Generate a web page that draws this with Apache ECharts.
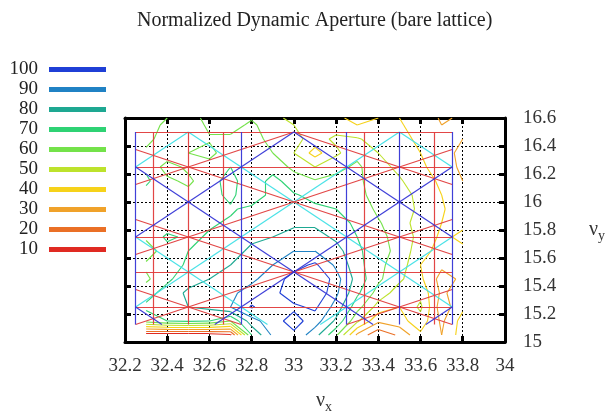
<!DOCTYPE html>
<html>
<head>
<meta charset="utf-8">
<script src="https://cdn.jsdelivr.net/npm/echarts@6/dist/echarts.min.js"></script>
<style>
  html, body { margin: 0; padding: 0; background: #fff; }
  #chart { width: 608px; height: 419px; }
</style>
</head>
<body>
<div id="chart"></div>
<script>
// tune scan grid (nu_x columns, nu_y rows)
const tuneX = [32.3, 32.4, 32.5, 32.6, 32.7, 32.8, 32.9, 33.0, 33.1, 33.2, 33.3, 33.4, 33.5, 33.6, 33.7, 33.8];
const tuneY = [15.05, 15.15, 15.25, 15.35, 15.45, 15.55, 15.65, 15.75, 15.85, 15.95, 16.05, 16.15, 16.25, 16.35, 16.45, 16.55, 16.6];

// normalized dynamic aperture, one row per nu_y
const row1505 = [4, 3, 3, 4, 8, 70, 92, 98, 84, 62, 28, 12, 22, 38, 30, 45];
const row1515 = [64, 70, 72, 70, 60, 86, 96, 104, 95, 78, 52, 32, 36, 46, 28, 44];
const row1525 = [72, 78, 80, 82, 90, 101, 94, 98, 102, 86, 64, 46, 40, 52, 24, 38];
const row1535 = [66, 74, 82, 86, 88, 94, 97, 106, 110, 92, 72, 56, 45, 47, 28, 36];
const row1545 = [58, 68, 76, 80, 82, 88, 95, 104, 114, 94, 76, 62, 52, 42, 26, 32];
const row1555 = [62, 64, 72, 76, 80, 86, 90, 96, 102, 88, 74, 62, 56, 40, 32, 34];
const row1565 = [54, 66, 70, 74, 76, 82, 86, 90, 90, 84, 72, 64, 57, 44, 36, 38];
const row1575 = [62, 72, 68, 71, 73, 78, 80, 84, 84, 78, 70, 63, 56, 47, 38, 42];
const row1585 = [66, 64, 66, 69, 71, 74, 77, 78, 78, 74, 68, 61, 54, 46, 40, 38];
const row1595 = [60, 67, 68, 65, 69, 72, 74, 74, 72, 70, 66, 58, 55, 48, 41, 35];
const row1605 = [66, 70, 63, 67, 72, 64, 73, 71, 67, 65, 63, 56, 53, 48, 40, 33];
const row1615 = [72, 62, 58, 66, 74, 62, 74, 64, 61, 63, 62, 55, 51, 45, 38, 30];
const row1625 = [68, 56, 62, 64, 70, 67, 65, 58, 50, 57, 62, 53, 48, 42, 35, 28];
const row1635 = [62, 66, 60, 57, 66, 69, 60, 50, 36, 48, 57, 50, 46, 40, 33, 28];
const row1645 = [57, 65, 68, 61, 62, 65, 56, 53, 46, 52, 51, 46, 43, 38, 31, 30];
const row1655 = [58, 61, 66, 58, 56, 62, 54, 50, 48, 45, 40, 43, 41, 36, 30, 31];
const row1660 = [57, 60, 64, 57, 55, 59, 52, 48, 46, 42, 37, 40, 40, 35, 29, 31];
const apertureGrid = [row1505, row1515, row1525, row1535, row1545, row1555, row1565, row1575,
  row1585, row1595, row1605, row1615, row1625, row1635, row1645, row1655, row1660];

const levels = [100, 90, 80, 70, 60, 50, 40, 30, 20, 10];
const levelColors = ["#1f3fd6", "#2082c4", "#1ea892", "#2fd274", "#74e24a", "#bde22c", "#f6d21a", "#f0a22a", "#ea7026", "#e02a22"];

// resonance lines, drawn inside this tune window
const resXRange = [32.25, 33.75];
const resYRange = [15.125, 16.5];
const redVertical = [97 / 3, 32.5, 98 / 3, 100 / 3, 101 / 3];
const blueVertical = [32.25, 32.75, 33.25, 33.5, 33.75];
const redHorizontal = [15.25, 15.5, 15.75, 16.25, 16.5];
const redSum = [63, 64, 65, 66];        // nux + 2 nuy
const redDiff = [0, 1, 2, 3];           // nux - 2 nuy
const cyanSum = [48, 49, 50];           // nux + nuy
const cyanDiff = [16, 17, 18];          // nux - nuy
const blueSum = [47.5, 48.5, 49.5];     // nux + nuy
const blueDiff = [16.5, 17.5, 18.5];    // nux - nuy

const FONT = "'Liberation Serif', 'Times New Roman', serif";

function contourSegments(level) {
  const segs = [];
  for (let j = 0; j < tuneY.length - 1; j += 1) {
    for (let i = 0; i < tuneX.length - 1; i += 1) {
      const x0 = tuneX[i], x1 = tuneX[i + 1], y0 = tuneY[j], y1 = tuneY[j + 1];
      const v = [apertureGrid[j][i], apertureGrid[j][i + 1], apertureGrid[j + 1][i + 1], apertureGrid[j + 1][i]];
      const p = [[x0, y0], [x1, y0], [x1, y1], [x0, y1]];
      const cross = [];
      const edges = [];
      for (let e = 0; e < 4; e += 1) {
        const a = e;
        const b = (e + 1) % 4;
        if ((v[a] >= level) !== (v[b] >= level)) {
          const t = (level - v[a]) / (v[b] - v[a]);
          cross[e] = [p[a][0] + t * (p[b][0] - p[a][0]), p[a][1] + t * (p[b][1] - p[a][1])];
          edges.push(e);
        }
      }
      if (edges.length === 2) {
        segs.push([cross[edges[0]], cross[edges[1]]]);
      } else if (edges.length === 4) {
        const centre = (v[0] + v[1] + v[2] + v[3]) / 4;
        if ((v[0] >= level) === (centre >= level)) {
          segs.push([cross[0], cross[1]], [cross[2], cross[3]]);
        } else {
          segs.push([cross[3], cross[0]], [cross[1], cross[2]]);
        }
      }
    }
  }
  return segs;
}

// clip a*nux + b*nuy = n to the resonance window
function clipLine(a, b, n) {
  const eps = 1e-9;
  const pts = [];
  if (b !== 0) {
    resXRange.forEach((x) => {
      const y = (n - a * x) / b;
      if (y >= resYRange[0] - eps && y <= resYRange[1] + eps) pts.push([x, y]);
    });
  }
  if (a !== 0) {
    resYRange.forEach((y) => {
      const x = (n - b * y) / a;
      if (x >= resXRange[0] - eps && x <= resXRange[1] + eps) pts.push([x, y]);
    });
  }
  if (pts.length < 2) return null;
  pts.sort((p, q) => (p[0] - q[0]) || (p[1] - q[1]));
  const first = pts[0];
  const last = pts[pts.length - 1];
  if (Math.abs(first[0] - last[0]) < eps && Math.abs(first[1] - last[1]) < eps) return null;
  return [first, last];
}

function resonanceSeries(color, lines) {
  const data = lines.map((l) => clipLine(l[0], l[1], l[2])).filter(Boolean).map((c) => ({ coords: c }));
  return {
    type: "lines",
    coordinateSystem: "cartesian2d",
    xAxisIndex: 0,
    yAxisIndex: 0,
    silent: true,
    z: 4,
    lineStyle: { color, width: 1.2, opacity: 0.95 },
    data
  };
}

const redLines = []
  .concat(redVertical.map((n) => [1, 0, n]))
  .concat(redHorizontal.map((n) => [0, 1, n]))
  .concat(redSum.map((n) => [1, 2, n]))
  .concat(redDiff.map((n) => [1, -2, n]));
const blueLines = []
  .concat(blueVertical.map((n) => [1, 0, n]))
  .concat(blueSum.map((n) => [1, 1, n]))
  .concat(blueDiff.map((n) => [1, -1, n]));
const cyanLines = []
  .concat(cyanSum.map((n) => [1, 1, n]))
  .concat(cyanDiff.map((n) => [1, -1, n]));

const contourSeries = levels.map((lv, k) => ({
  type: "lines",
  name: String(lv),
  coordinateSystem: "cartesian2d",
  xAxisIndex: 0,
  yAxisIndex: 0,
  silent: true,
  z: 3,
  lineStyle: { color: levelColors[k], width: 1.1, opacity: 1 },
  itemStyle: { color: levelColors[k] },
  data: contourSegments(lv).map((s) => ({ coords: s }))
}));

const frameLine = { show: true, onZero: false, lineStyle: { color: "#000", width: 3 } };
const frameTick = { show: true, inside: true, length: 6, lineStyle: { color: "#000", width: 3 } };
const dotted = { show: true, lineStyle: { color: "#000", width: 1, type: [2, 2] } };

const chart = echarts.init(document.getElementById("chart"), null, { renderer: "canvas" });
chart.setOption({
  animation: false,
  backgroundColor: "#fff",
  textStyle: { fontFamily: FONT },
  title: {
    text: "Normalized Dynamic Aperture (bare lattice)",
    left: 132,
    top: 6,
    textStyle: { fontFamily: FONT, fontSize: 20, fontWeight: "normal", color: "#222" }
  },
  legend: {
    orient: "vertical",
    left: 0,
    top: 55,
    align: "right",
    icon: "rect",
    itemWidth: 55,
    itemHeight: 3,
    itemGap: 1,
    selectedMode: false,
    textStyle: { fontFamily: FONT, fontSize: 19, lineHeight: 19, color: "#222", width: 33, align: "right", padding: [0, 7, 0, 0] },
    data: levels.map((lv, k) => ({ name: String(lv), itemStyle: { color: levelColors[k] } }))
  },
  grid: { left: 125, right: 103, top: 118, bottom: 73 },
  xAxis: [
    {
      type: "value",
      position: "bottom",
      min: 32.2,
      max: 34,
      interval: 0.2,
      axisLine: frameLine,
      axisTick: frameTick,
      axisLabel: { fontFamily: FONT, fontSize: 19, color: "#333", margin: 15 },
      splitLine: dotted,
      name: "{n|ν}{s|x}",
      nameLocation: "middle",
      nameGap: 46,
      nameTextStyle: {
        padding: [0, 0, 0, 18],
        rich: {
          n: { fontFamily: FONT, fontSize: 20, color: "#333" },
          s: { fontFamily: FONT, fontSize: 14, color: "#333", padding: [12, 0, 0, 0] }
        }
      }
    },
    {
      type: "value",
      position: "top",
      min: 32.2,
      max: 34,
      interval: 0.2,
      axisLine: frameLine,
      axisTick: frameTick,
      axisLabel: { show: false },
      splitLine: { show: false }
    }
  ],
  yAxis: [
    {
      type: "value",
      position: "right",
      min: 15,
      max: 16.6,
      interval: 0.2,
      axisLine: frameLine,
      axisTick: frameTick,
      axisLabel: { fontFamily: FONT, fontSize: 19, color: "#333", margin: 18 },
      splitLine: dotted,
      name: "{n|ν}{s|y}",
      nameLocation: "middle",
      nameRotate: 0,
      nameGap: 84,
      nameTextStyle: {
        rich: {
          n: { fontFamily: FONT, fontSize: 20, color: "#333" },
          s: { fontFamily: FONT, fontSize: 14, color: "#333", padding: [12, 0, 0, 0] }
        }
      }
    },
    {
      type: "value",
      position: "left",
      min: 15,
      max: 16.6,
      interval: 0.2,
      axisLine: frameLine,
      axisTick: frameTick,
      axisLabel: { show: false },
      splitLine: { show: false }
    }
  ],
  series: contourSeries.concat([
    resonanceSeries("#40e0e6", cyanLines),
    resonanceSeries("#e03c3c", redLines),
    resonanceSeries("#3636d6", blueLines)
  ])
});
</script>
</body>
</html>
